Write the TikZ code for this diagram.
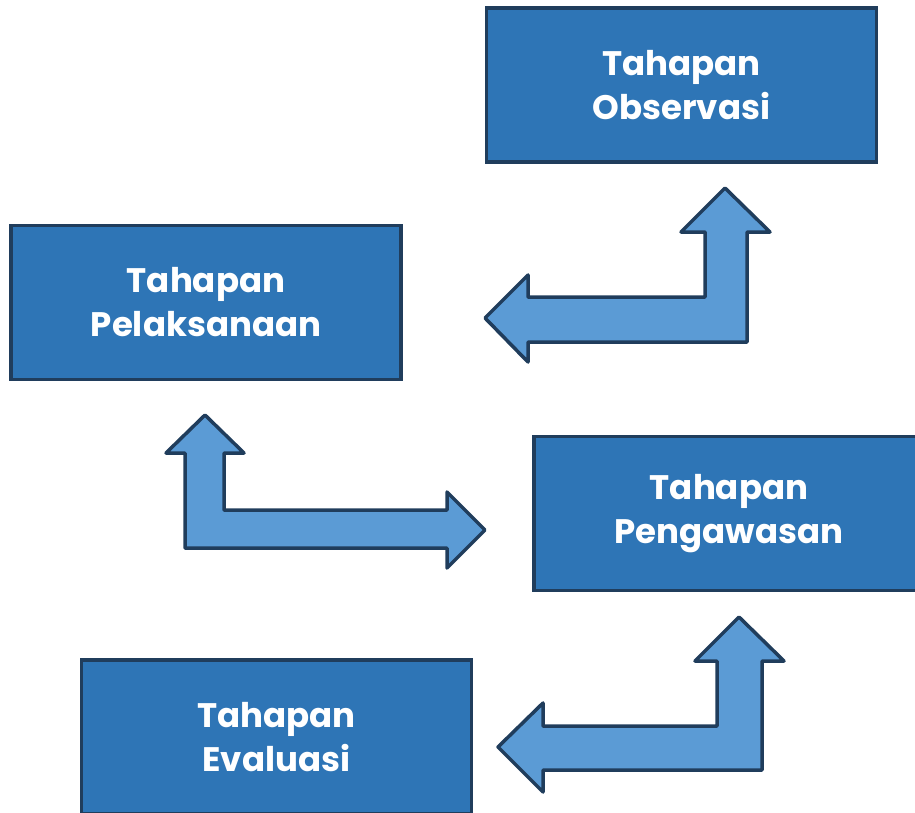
\documentclass[tikz,border=0pt]{standalone}
\usepackage{fontspec}
\setmainfont{Poppins}
\definecolor{boxfill}{HTML}{2E75B6}
\definecolor{edge}{HTML}{203D5C}
\definecolor{arrowfill}{HTML}{5B9BD5}
\begin{document}
\begin{tikzpicture}[x=1pt,y=-1pt,
  stage/.style={draw=edge, fill=boxfill, line width=3.5pt, rectangle, inner sep=0pt,
    minimum width=390pt, minimum height=154pt, text=white, align=center,
    font=\fontsize{34}{44}\selectfont\bfseries},
  bent/.style={draw=edge, fill=arrowfill, line width=3.5pt, line join=round}]
\useasboundingbox (0,0) rectangle (915,812);
\clip (0,0) rectangle (915,812);
\node[stage] (obs) at (681.5,85) {Tahapan\\Observasi};
\node[stage] (pel) at (206,302.5) {Tahapan\\Pelaksanaan};
\node[stage] (pen) at (729,513.5) {Tahapan\\Pengawasan};
\node[stage] (eva) at (276.5,737) {Tahapan\\Evaluasi};
\draw[bent] (485,318) -- (528,275) -- (528,297) -- (705,297) -- (705,232) -- (681,232) -- (725,188) -- (770,232) -- (747,232) -- (747,342) -- (528,342) -- (528,362) -- cycle;
\draw[bent] (205,415) -- (244,453) -- (224,453) -- (224,510) -- (447,510) -- (447,492) -- (485,530) -- (447,568) -- (447,548) -- (185,548) -- (185,453) -- (166,453) -- cycle;
\draw[bent] (498,747) -- (543,703) -- (543,726) -- (717,726) -- (717,661) -- (695,661) -- (739,617) -- (784,661) -- (762,661) -- (762,770) -- (543,770) -- (543,792) -- cycle;
\end{tikzpicture}
\end{document}
